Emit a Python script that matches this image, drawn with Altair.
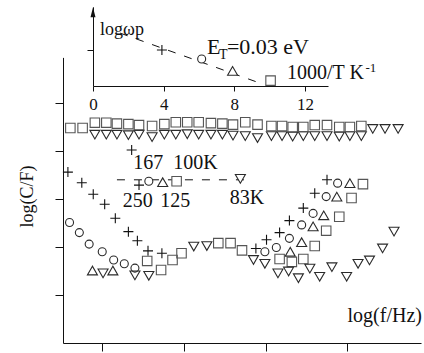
import altair as alt
import pandas as pd

FONT = "Liberation Serif"
INK = "#111111"

# ---------------- main panel: x = log(f/Hz), y = log(C/F) ----------------
# flat upper curve (squares and down-triangles)
sq_top_x = [0.61, 0.76, 0.91, 1.05, 1.18, 1.32, 1.45, 1.61, 1.76, 1.90, 2.04, 2.18, 2.33,
            2.47, 2.60, 2.75, 2.90, 3.07, 3.20, 3.33, 3.46, 3.60, 3.75, 3.90, 4.03, 4.17]
sq_top_y = [4.48, 4.48, 4.59, 4.59, 4.57, 4.56, 4.54, 4.52, 4.56, 4.60, 4.60, 4.60, 4.58,
            4.57, 4.55, 4.60, 4.55, 4.52, 4.52, 4.50, 4.50, 4.54, 4.54, 4.50, 4.50, 4.52]
tri_top_x = [0.91, 1.05, 1.18, 1.32, 1.45, 1.61, 1.76, 1.90, 2.04, 2.18, 2.33, 2.47, 2.60,
             2.75, 2.90, 3.07, 3.20, 3.33, 3.46, 3.60, 3.75, 3.90, 4.03, 4.17, 4.31, 4.46, 4.62]
tri_top_y = [4.34, 4.34, 4.34, 4.33, 4.34, 4.29, 4.34, 4.34, 4.35, 4.34, 4.34, 4.34, 4.32,
             4.31, 4.27, 4.31, 4.31, 4.30, 4.31, 4.31, 4.31, 4.30, 4.31, 4.31, 4.46, 4.46, 4.46]

# 167 K (circles)
circ_x = [0.60, 0.72, 0.84, 1.00, 1.14, 1.27, 1.40, 2.99, 3.13, 3.29, 3.44, 3.58, 3.74, 3.88]
circ_y = [2.51, 2.30, 2.06, 1.90, 1.73, 1.65, 1.56, 1.90, 1.99, 2.18, 2.46, 2.70, 3.05, 3.33]
# 250 K (plus)
plus_x = [0.58, 0.75, 0.89, 1.03, 1.16, 1.32, 1.43, 1.56, 1.73, 2.88, 3.01, 3.17, 3.29,
          3.46, 3.60, 3.75, 1.36]
plus_y = [3.56, 3.34, 3.10, 2.89, 2.60, 2.32, 2.13, 1.92, 1.87, 1.97, 2.15, 2.30, 2.55,
          2.81, 3.12, 3.40, 4.02]
# 125 K (up-triangles)
triup_x = [0.88, 1.13, 3.30, 3.44, 3.58, 3.71, 3.87, 4.03]
triup_y = [1.51, 1.51, 1.90, 2.10, 2.43, 2.66, 3.05, 3.33]
# 100 K (squares)
sq_x = [1.55, 1.72, 1.86, 1.97, 2.42, 2.57, 2.71, 3.17, 3.32, 3.46, 3.60, 3.74, 3.90, 4.05, 4.19]
sq_y = [1.71, 1.52, 1.73, 1.87, 2.08, 2.08, 1.93, 1.75, 1.69, 1.75, 2.02, 2.34, 2.63, 3.02, 3.31]
# 83 K (down-triangles)
tridn_x = [1.01, 1.40, 1.57, 2.12, 2.28, 2.85, 2.99, 3.15, 3.28, 3.40, 3.54, 3.66, 3.81,
           3.99, 4.13, 4.27, 4.43, 4.57]
tridn_y = [1.45, 1.41, 1.40, 2.01, 2.02, 1.73, 1.65, 1.45, 1.49, 1.35, 1.55, 1.38, 1.58,
           1.38, 1.65, 1.72, 1.97, 2.32]

# dashed key line with the peak markers
key_line_x = [1.18, 2.84]
key_line_y = [3.40, 3.40]
key_plus = ([1.45], [3.29])
key_circ = ([1.57], [3.37])
key_triup = ([1.74], [3.35])
key_sq = ([1.91], [3.37])
key_tridn = ([2.69], [3.42])

# temperature labels
lab_top_x = [1.38, 1.87]
lab_top_y = [3.76, 3.76]
lab_top_t = ["167", "100K"]
lab_bot_x = [1.25, 1.71, 2.56]
lab_bot_y = [2.95, 2.95, 3.02]
lab_bot_t = ["250", "125", "83K"]

# ---------------- inset: log(omega_p) vs 1000/T ----------------
in_x = [3.9, 6.15, 7.9, 10.05]
in_y = [1.0, 0.75, 0.42, 0.15]
in_line_x = [1.53, 9.28]
in_line_y = [1.47, 0.11]
in_ticks = [0, 4, 8, 12]


def df(xs, ys, t=None):
    d = {"x": xs, "y": ys}
    if t is not None:
        d["t"] = t
    return pd.DataFrame(d)


PLUS = "M-1,0L1,0M0,-1L0,1"
ARROW = "M0,-1L0.5,1L-0.5,1Z"

sx = alt.Scale(domain=[0.52, 4.9], range=[0, 358], nice=False, zero=False)
sy = alt.Scale(domain=[0, 5.95], range=[338, 52.4], nice=False, zero=False)
ax_x = alt.Axis(orient="bottom", values=[1, 2, 3, 4], labels=False, tickSize=8, grid=False,
                title="log(f/Hz)", titleFont=FONT, titleFontSize=20, titleFontWeight="normal",
                titleColor=INK, titleX=284, titleY=-28, titleAlign="left",
                titleBaseline="middle", domainColor=INK, tickColor=INK)
ax_y = alt.Axis(orient="left", values=[1, 2, 3, 4, 5], labels=False, tickSize=8, grid=False,
                title="log(C/F)", titleFont=FONT, titleFontSize=18, titleFontWeight="normal",
                titleColor=INK, titleX=-36, titleY=191, titleAngle=270, titleAlign="center",
                titleBaseline="middle", domainColor=INK, tickColor=INK)

isx = alt.Scale(domain=[0, 13.3], range=[30, 265], nice=False, zero=False)
isy = alt.Scale(domain=[0, 2.2], range=[81, 1.8], nice=False, zero=False)
iax_x = alt.Axis(orient="bottom", offset=-257, values=in_ticks, tickSize=5, grid=False,
                 labelFont=FONT, labelFontSize=17, labelPadding=5, labelFlush=False,
                 labelColor=INK, domainColor=INK, tickColor=INK, title=None)
iax_y = alt.Axis(orient="left", offset=-30, values=[1], tickSize=6, grid=False, labels=False,
                 domainColor=INK, tickColor=INK, title=None)


def enc_main():
    return dict(x=alt.X("x:Q", scale=sx, axis=ax_x), y=alt.Y("y:Q", scale=sy, axis=ax_y))


def enc_in():
    return dict(x=alt.X("x:Q", scale=isx, axis=iax_x), y=alt.Y("y:Q", scale=isy, axis=iax_y))


def pts(data, shape, color, size, enc, fill=None):
    kw = dict(shape=shape, size=size, stroke=color, strokeWidth=1.1, opacity=1)
    if fill:
        kw.update(filled=True, fill=fill)
    else:
        kw.update(filled=False, color=color)
    return alt.Chart(data).mark_point(**kw).encode(**enc())


def txt(data, size, enc):
    return alt.Chart(data).mark_text(font=FONT, fontSize=size, align="left",
                                     baseline="middle", color=INK).encode(text="t:N", **enc())


SQC = "#555555"
DK = "#2a2a2a"

main = alt.layer(
    alt.Chart(df(key_line_x, key_line_y)).mark_line(color=INK, strokeWidth=1,
                                                     strokeDash=[8, 9]).encode(**enc_main()),
    pts(df(tri_top_x, tri_top_y), "triangle-down", DK, 100, enc_main),
    pts(df(sq_top_x, sq_top_y), "square", SQC, 90, enc_main),
    pts(df(circ_x, circ_y), "circle", DK, 64, enc_main),
    pts(df(plus_x, plus_y), PLUS, INK, 100, enc_main),
    pts(df(triup_x, triup_y), "triangle-up", DK, 100, enc_main),
    pts(df(sq_x, sq_y), "square", SQC, 90, enc_main),
    pts(df(tridn_x, tridn_y), "triangle-down", DK, 100, enc_main),
    pts(df(*key_plus), PLUS, INK, 100, enc_main),
    pts(df(*key_circ), "circle", DK, 64, enc_main, fill="white"),
    pts(df(*key_triup), "triangle-up", DK, 100, enc_main, fill="white"),
    pts(df(*key_sq), "square", SQC, 90, enc_main, fill="white"),
    pts(df(*key_tridn), "triangle-down", DK, 100, enc_main, fill="white"),
    txt(df(lab_top_x, lab_top_y, lab_top_t), 20, enc_main),
    txt(df(lab_bot_x, lab_bot_y, lab_bot_t), 20, enc_main),
)

inset = alt.layer(
    alt.Chart(df(in_line_x, in_line_y)).mark_line(color=INK, strokeWidth=1,
                                                   strokeDash=[8, 9]).encode(**enc_in()),
    pts(df(in_x[:1], in_y[:1]), PLUS, INK, 100, enc_in),
    pts(df(in_x[1:2], in_y[1:2]), "circle", DK, 64, enc_in, fill="white"),
    pts(df(in_x[2:3], in_y[2:3]), "triangle-up", DK, 100, enc_in, fill="white"),
    pts(df(in_x[3:], in_y[3:]), "square", SQC, 90, enc_in, fill="white"),
    alt.Chart(df([0], [2.05])).mark_point(shape=ARROW, size=100, filled=True, color=INK,
                                          opacity=1).encode(**enc_in()),
    txt(df([0.4], [1.56], ["log\u03c9p"]), 18, enc_in),
    txt(df([6.45], [1.08], ["E"]), 22, enc_in),
    txt(df([7.13], [0.86], ["T"]), 14, enc_in),
    txt(df([7.58], [1.08], ["=0.03 eV"]), 22, enc_in),
    txt(df([10.98], [0.35], ["1000/T K"]), 20, enc_in),
    txt(df([15.42], [0.49], ["-1"]), 13, enc_in),
)

chart = alt.layer(main, inset).resolve_scale(
    x="independent", y="independent"
).properties(
    width=358, height=338,
    padding={"left": 63, "top": 5, "right": 3, "bottom": 10},
    autosize=alt.AutoSizeParams(type="none"),
    background="white",
).configure_view(strokeWidth=0).configure_axis(
    labelFont=FONT, titleFont=FONT
).configure_text(font=FONT)

chart.save("out.html", embed_options={"renderer": "svg", "actions": False})
